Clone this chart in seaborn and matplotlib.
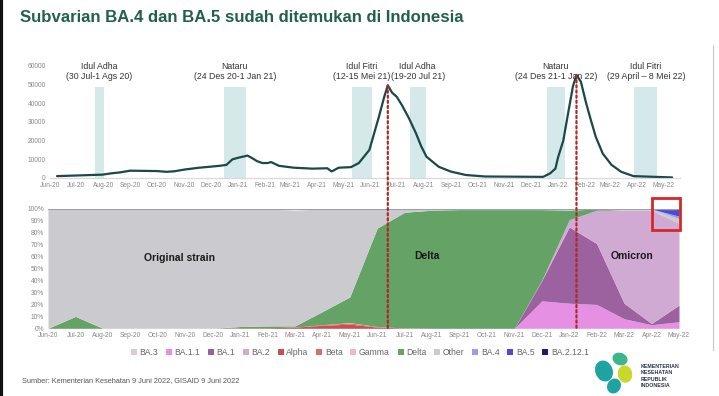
import numpy as np
import pandas as pd
import matplotlib
matplotlib.use("Agg")
import matplotlib.pyplot as plt
import matplotlib.dates as mdates
from matplotlib import transforms
from matplotlib.patches import ConnectionPatch, Ellipse, Rectangle
import seaborn as sns

# kasus harian (rata-rata 7 hari)
case_dates = ["2020-06-09", "2020-06-29", "2020-07-31", "2020-08-10", "2020-08-20", "2020-08-31",
              "2020-09-17", "2020-10-01", "2020-10-12", "2020-10-21", "2020-11-01", "2020-11-18",
              "2020-11-30", "2020-12-11", "2020-12-19", "2020-12-26", "2021-01-03", "2021-01-08",
              "2021-01-12", "2021-01-16", "2021-01-23", "2021-01-29", "2021-02-04", "2021-02-08",
              "2021-02-17", "2021-03-06", "2021-03-27", "2021-04-13", "2021-04-18", "2021-04-26",
              "2021-05-10", "2021-05-19", "2021-05-31", "2021-06-11", "2021-06-17", "2021-06-21",
              "2021-06-26", "2021-07-01", "2021-07-07", "2021-07-15", "2021-07-23", "2021-07-29",
              "2021-08-04", "2021-08-18", "2021-09-01", "2021-09-18", "2021-10-10", "2021-12-15",
              "2021-12-23", "2021-12-29", "2022-01-01", "2022-01-07", "2022-01-13", "2022-01-18",
              "2022-01-22", "2022-01-27", "2022-02-02", "2022-02-08", "2022-02-13", "2022-02-21",
              "2022-03-03", "2022-03-14", "2022-03-28", "2022-05-11"]
case_values = [1000, 1300, 1800, 2500, 3000, 3900,
               3800, 3700, 3300, 3600, 4500, 5500,
               6000, 6500, 7000, 10000, 11000, 11500,
               12000, 11000, 9000, 8000, 8000, 8500,
               6500, 5500, 5000, 5200, 3500, 5500,
               5800, 8000, 15000, 33000, 43500, 49500,
               45500, 43500, 39000, 32000, 24000, 17000,
               11400, 6000, 3400, 1600, 800, 600,
               2500, 5000, 11000, 20000, 36000, 49000,
               55000, 51500, 40000, 30000, 22000, 13000,
               7000, 3300, 1000, 300]

# periode libur panjang
holiday_start = ["2020-07-22", "2020-12-16", "2021-05-11", "2021-07-16", "2021-12-19", "2022-03-29"]
holiday_end = ["2020-08-02", "2021-01-10", "2021-06-03", "2021-08-03", "2022-01-09", "2022-04-24"]
holiday_labels = ["Idul Adha\n(30 Jul-1 Ags 20)", "Nataru\n(24 Des 20-1 Jan 21)",
                  "Idul Fitri\n(12-15 Mei 21)", "Idul Adha\n(19-20 Jul 21)",
                  "Nataru\n(24 Des 21-1 Jan 22)", "Idul Fitri\n(29 April \u2013 8 Mei 22)"]

# proporsi varian per bulan (%)
months = ["Jun-20", "Jul-20", "Aug-20", "Sep-20", "Oct-20", "Nov-20", "Dec-20", "Jan-21",
          "Feb-21", "Mar-21", "Apr-21", "May-21", "Jun-21", "Jul-21", "Aug-21", "Sep-21",
          "Oct-21", "Nov-21", "Dec-21", "Jan-22", "Feb-22", "Mar-22", "Apr-22", "May-22"]
ba3 =    [0, 0, 0, 0, 0, 0, 0, 0, 0, 0, 0, 0, 0, 0, 0, 0, 0, 0, 0, 0, 0, 0, 0, 0]
ba11 =   [0, 0, 0, 0, 0, 0, 0, 0, 0, 0, 0, 0, 0, 0, 0, 0, 0, 0, 23, 21, 20, 8, 3, 5.5]
ba1 =    [0, 0, 0, 0, 0, 0, 0, 0, 0, 0, 0, 0, 0, 0, 0, 0, 0, 0, 17, 64, 51, 13, 1, 14]
ba2 =    [0, 0, 0, 0, 0, 0, 0, 0, 0, 0, 0, 0, 0, 0, 0, 0, 0, 0, 0.5, 6, 28, 78, 95, 68.5]
alpha =  [0, 0, 0, 0, 0, 0, 0, 0.5, 0.5, 1, 2.5, 3.5, 1, 0.3, 0, 0, 0, 0, 0, 0, 0, 0, 0, 0]
beta =   [0, 0, 0, 0, 0, 0, 0, 0, 0, 0, 0.5, 1, 0.5, 0, 0, 0, 0, 0, 0, 0, 0, 0, 0, 0]
gamma =  [0, 0, 0, 0, 0, 0, 0, 0, 0, 0, 0, 0.3, 0, 0, 0, 0, 0, 0, 0, 0, 0, 0, 0, 0]
delta =  [0, 10, 0, 0, 0, 0, 0, 1, 1.5, 1, 11, 21.5, 82.5, 97, 99, 99.5, 99.5, 99.5, 59, 8, 1, 0, 0, 0]
other =  [100, 90, 100, 100, 100, 100, 100, 98.5, 98, 97, 86, 73.7, 16, 2.7, 1, 0.5, 0.5, 0.5, 0.5, 1, 0, 1, 1, 4]
ba4 =    [0, 0, 0, 0, 0, 0, 0, 0, 0, 0, 0, 0, 0, 0, 0, 0, 0, 0, 0, 0, 0, 0, 0, 2]
ba5 =    [0, 0, 0, 0, 0, 0, 0, 0, 0, 0, 0, 0, 0, 0, 0, 0, 0, 0, 0, 0, 0, 0, 0, 5]
ba2121 = [0, 0, 0, 0, 0, 0, 0, 0, 0, 0, 0, 0, 0, 0, 0, 0, 0, 0, 0, 0, 0, 0, 0, 1]

variant_names = ["BA.3", "BA.1.1", "BA.1", "BA.2", "Alpha", "Beta", "Gamma", "Delta",
                 "Other", "BA.4", "BA.5", "BA.2.12.1"]
variant_values = [ba3, ba11, ba1, ba2, alpha, beta, gamma, delta, other, ba4, ba5, ba2121]
variant_colors = ["#dccadc", "#e590e2", "#9c62a0", "#d0aad2", "#c85050", "#e06a6a",
                  "#f2b8c8", "#64a266", "#cbcbcf", "#9c9ce8", "#4a4ad8", "#1a1a6e"]

sns.set_theme(style="white")
plt.rcParams["font.family"] = ["Liberation Sans", "DejaVu Sans"]

fig = plt.figure(figsize=(7.19, 3.96), dpi=100)

fig.text(20 / 719, 1 - 18 / 396, "Subvarian BA.4 dan BA.5 sudah ditemukan di Indonesia",
         fontsize=12.1, fontweight="bold", color="#22604c", va="center", ha="left")

# --- grafik kasus ---
ax1 = fig.add_axes([50 / 719, 1 - 178 / 396, 630 / 719, (178 - 65.7) / 396])
df_cases = pd.DataFrame({"date": pd.to_datetime(case_dates), "cases": case_values})

for s, e, lab in zip(holiday_start, holiday_end, holiday_labels):
    s, e = pd.Timestamp(s), pd.Timestamp(e)
    ax1.axvspan(s, e, ymin=0, ymax=48800 / 60000, color="#d5e8ea", lw=0, zorder=0)
    ax1.text(s + (e - s) / 2, 57000, lab, ha="center", va="center", fontsize=6.3,
             color="#333333", linespacing=1.15)

sns.lineplot(data=df_cases, x="date", y="cases", ax=ax1, color="#1c4848", lw=1.6)
ax1.set_xlim(pd.Timestamp("2020-06-01"), pd.Timestamp("2022-05-20"))
ax1.set_ylim(0, 60000)
ax1.set_yticks(range(0, 60001, 10000))
ax1.xaxis.set_major_locator(mdates.MonthLocator())
ax1.xaxis.set_major_formatter(mdates.DateFormatter("%b-%y"))
ax1.set_xlabel("")
ax1.set_ylabel("")
ax1.tick_params(axis="both", labelsize=4.8, colors="#888888", length=0, pad=3)
for sp in ["top", "right", "left"]:
    ax1.spines[sp].set_visible(False)
ax1.spines["bottom"].set_color("#d8d8d8")
ax1.spines["bottom"].set_linewidth(0.8)
ax1.patch.set_alpha(0)

# --- grafik proporsi varian ---
ax2 = fig.add_axes([48 / 719, 1 - 328.3 / 396, 631 / 719, (328.3 - 209) / 396])
x_idx = np.arange(len(months))
ax2.stackplot(x_idx, *variant_values, labels=variant_names, colors=variant_colors, lw=0)
ax2.axhline(100, color="#9a9cb8", lw=0.8)
ax2.set_xlim(0, len(months) - 1)
ax2.set_ylim(0, 100)
ax2.set_xticks(x_idx)
ax2.set_xticklabels(months)
ax2.set_yticks(range(0, 101, 10))
ax2.set_yticklabels([f"{v}%" for v in range(0, 101, 10)])
ax2.tick_params(axis="both", labelsize=4.8, colors="#888888", length=0, pad=3)
for sp in ax2.spines.values():
    sp.set_visible(False)

ax2.text(4.8, 59, "Original strain", fontsize=7.5, fontweight="bold", color="#1a1a1a",
         ha="center", va="center")
ax2.text(13.8, 61, "Delta", fontsize=7.5, fontweight="bold", color="#1a1a1a",
         ha="center", va="center")
ax2.text(21.3, 61, "Omicron", fontsize=7.5, fontweight="bold", color="#1a1a1a",
         ha="center", va="center")

# kotak merah BA.4/BA.5
ax2.add_patch(Rectangle((22, 82.5), 1.05, 26.5, fill=False, edgecolor="#d42828", lw=2,
                        clip_on=False, zorder=5))

leg = ax2.legend(loc="center", bbox_to_anchor=(0.494, -0.2), ncol=12, frameon=False,
                 fontsize=6.2, handlelength=0.7, handleheight=0.7, handletextpad=0.3,
                 columnspacing=0.9, borderpad=0)
for t in leg.get_texts():
    t.set_color("#666666")

# garis puncak gelombang Delta dan Omicron
dates_num = mdates.date2num(df_cases["date"])
vals = np.array(case_values)
blend = transforms.blended_transform_factory(ax1.transData, ax2.transAxes)
for lo, hi in [("2021-05-01", "2021-09-01"), ("2021-12-01", "2022-04-01")]:
    m = (df_cases["date"] >= lo) & (df_cases["date"] <= hi)
    i = vals[m.values].argmax()
    xd = dates_num[m.values][i]
    yv = vals[m.values][i]
    con = ConnectionPatch(xyA=(xd, yv), coordsA=ax1.transData, xyB=(xd, 0), coordsB=blend,
                          color="#b02828", lw=1.6, linestyle=(0, (1, 1.3)), zorder=10)
    fig.add_artist(con)

fig.text(22 / 719, 1 - 381 / 396, "Sumber: Kementerian Kesehatan 9 Juni 2022, GISAID 9 Juni 2022",
         fontsize=5.3, color="#555555", va="center", ha="left")

# logo kementerian (sederhana)
axl = fig.add_axes([592 / 719, 1 - 395 / 396, 48 / 719, 46 / 396])
axl.set_xlim(0, 48)
axl.set_ylim(0, 46)
axl.axis("off")
axl.add_patch(Ellipse((12, 24), 16, 20, angle=20, color="#1fa3a0"))
axl.add_patch(Ellipse((28, 36), 14, 11, angle=-20, color="#3cb58c"))
axl.add_patch(Ellipse((33, 21), 13, 16, angle=10, color="#c9d82a"))
axl.add_patch(Ellipse((22, 9), 12, 14, angle=-30, color="#1fa3a0"))
fig.text(641 / 719, 1 - 376 / 396, "KEMENTERIAN\nKESEHATAN\nREPUBLIK\nINDONESIA",
         fontsize=3.8, fontweight="bold", color="#2a3050", va="center", ha="left",
         linespacing=1.3)

# bingkai tepi
fig.add_artist(plt.Line2D([0.002, 0.002], [0, 1], color="#111111", lw=3))
fig.add_artist(plt.Line2D([713 / 719, 713 / 719], [1 - 350 / 396, 1 - 45 / 396],
                          color="#c8c8c8", lw=0.8))

fig.savefig("out.png", dpi=100)
